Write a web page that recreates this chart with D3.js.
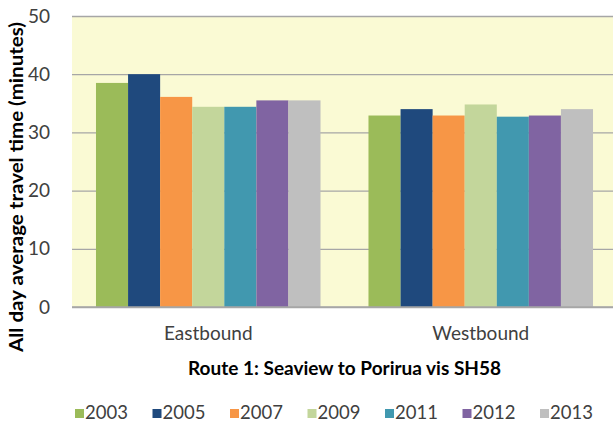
<!DOCTYPE html>
<html>
<head>
<meta charset="utf-8">
<script src="https://cdn.jsdelivr.net/npm/d3@7/dist/d3.min.js"></script>
<style>
  html, body { margin: 0; padding: 0; background: #ffffff; }
  svg { display: block; }
  text { font-family: Lato, "Open Sans", sans-serif; }
</style>
</head>
<body>
<svg id="chart" width="613" height="425"></svg>
<script>
// Travel time data: all-day average, minutes
const directions = ["Eastbound", "Westbound"];
const years = ["2003", "2005", "2007", "2009", "2011", "2012", "2013"];
const eastbound = [38.5, 40.0, 36.1, 34.4, 34.4, 35.5, 35.5];
const westbound = [32.9, 34.0, 32.9, 34.8, 32.7, 32.9, 34.0];
const yTicks = [0, 10, 20, 30, 40, 50];
const yearColors = ["#9BBB59", "#1F497D", "#F79646", "#C3D69B", "#4198AF", "#8064A2", "#BFBFBF"];

const seriesByDirection = { Eastbound: eastbound, Westbound: westbound };

const svg = d3.select("#chart");
const plot = { left: 72, right: 617, top: 16, bottom: 307 };

const x0 = d3.scaleBand()
  .domain(directions)
  .range([plot.left, plot.right])
  .paddingInner(0.176)
  .paddingOuter(0.088);

const x1 = d3.scaleBand()
  .domain(years)
  .range([0, x0.bandwidth()]);

const y = d3.scaleLinear()
  .domain([0, 50])
  .range([plot.bottom, plot.top]);

const color = d3.scaleOrdinal().domain(years).range(yearColors);

// Plot area background
svg.append("rect")
  .attr("x", plot.left)
  .attr("y", plot.top)
  .attr("width", plot.right - plot.left)
  .attr("height", plot.bottom - plot.top)
  .attr("fill", "#FAFAD4");

// Horizontal gridlines with value labels
const yAxis = d3.axisLeft(y)
  .tickValues(yTicks)
  .tickSize(-(plot.right - plot.left))
  .tickPadding(22)
  .tickFormat(d3.format("d"));

const gy = svg.append("g")
  .attr("transform", `translate(${plot.left},0)`)
  .call(yAxis);
gy.select(".domain").remove();
gy.selectAll(".tick line")
  .attr("stroke", "#A6A6A6")
  .attr("stroke-width", 1.3);
gy.selectAll(".tick text")
  .attr("fill", "#404040")
  .style("font-size", "19px");

// Bars
const groups = svg.append("g")
  .selectAll("g")
  .data(directions)
  .join("g")
  .attr("transform", d => `translate(${x0(d)},0)`);

groups.selectAll("rect")
  .data(d => years.map((yr, i) => ({ year: yr, value: seriesByDirection[d][i] })))
  .join("rect")
  .attr("x", d => x1(d.year))
  .attr("y", d => y(d.value))
  .attr("width", x1.bandwidth())
  .attr("height", d => y(0) - y(d.value))
  .attr("fill", d => color(d.year));

// Baseline
svg.append("line")
  .attr("x1", plot.left)
  .attr("x2", plot.right)
  .attr("y1", y(0))
  .attr("y2", y(0))
  .attr("stroke", "#A6A6A6")
  .attr("stroke-width", 1.3);

// Category labels
const xAxis = d3.axisBottom(x0).tickSize(0).tickPadding(20);
const gx = svg.append("g")
  .attr("transform", `translate(0,${plot.bottom})`)
  .call(xAxis);
gx.select(".domain").remove();
gx.selectAll(".tick text")
  .attr("fill", "#404040")
  .style("font-size", "19px");

// Axis titles
svg.append("text")
  .attr("transform", "translate(23,187) rotate(-90)")
  .attr("text-anchor", "middle")
  .attr("fill", "#000")
  .style("font-size", "18.5px")
  .style("font-weight", "bold")
  .attr("textLength", 330)
  .attr("lengthAdjust", "spacingAndGlyphs")
  .text("All day average travel time (minutes)");

svg.append("text")
  .attr("x", (plot.left + plot.right) / 2)
  .attr("y", 375)
  .attr("text-anchor", "middle")
  .attr("fill", "#000")
  .style("font-size", "19px")
  .style("font-weight", "bold")
  .text("Route 1: Seaview to Porirua vis SH58");

// Legend
const legend = svg.append("g")
  .selectAll("g")
  .data(years)
  .join("g")
  .attr("transform", (d, i) => `translate(${75 + i * 77.5},0)`);

legend.append("rect")
  .attr("x", 0)
  .attr("y", 409)
  .attr("width", 9)
  .attr("height", 9)
  .attr("fill", d => color(d));

legend.append("text")
  .attr("x", 10)
  .attr("y", 419)
  .attr("fill", "#404040")
  .style("font-size", "18.5px")
  .text(d => d);
</script>
</body>
</html>
